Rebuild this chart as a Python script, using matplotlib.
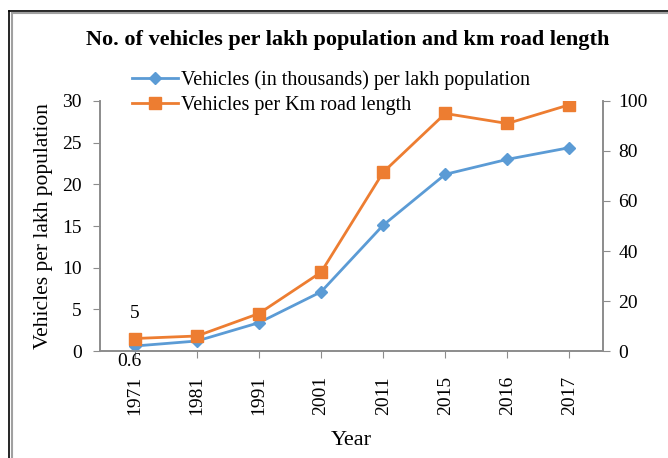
import matplotlib.pyplot as plt
from matplotlib.lines import Line2D

# Data
years = ['1971', '1981', '1991', '2001', '2011', '2015', '2016', '2017']
veh_per_lakh = [0.6, 1.2, 3.4, 7.1, 15.1, 21.2, 23.0, 24.4]
veh_per_km = [5, 6, 15, 31.5, 71.5, 95, 91, 98.5]

plt.rcParams['font.family'] = ['Liberation Serif', 'DejaVu Serif']

blue = '#5B9BD5'
orange = '#ED7D31'
grey = '#8C8C8C'

fig = plt.figure(figsize=(6.68, 4.58), dpi=100)
ax = fig.add_axes([0.1497, 0.2336, 0.753, 0.5459])
ax2 = ax.twinx()

x = list(range(len(years)))
l1, = ax.plot(x, veh_per_lakh, color=blue, lw=2, marker='D', ms=6,
              label='Vehicles (in thousands) per lakh population', zorder=3)
l2, = ax2.plot(x, veh_per_km, color=orange, lw=2, marker='s', ms=8,
               label='Vehicles per Km road length', zorder=3)

ax.set_xlim(-0.56, 7.54)
ax.set_ylim(0, 30)
ax2.set_ylim(0, 100)
ax.set_yticks(range(0, 31, 5))
ax2.set_yticks(range(0, 101, 20))
ax.set_xticks(x)
ax.set_xticklabels(years, rotation=90, fontsize=14)
ax.tick_params(axis='y', labelsize=14, color=grey, length=5, pad=8)
ax2.tick_params(axis='y', labelsize=14, color=grey, length=5, pad=6)
ax.tick_params(axis='x', color=grey, length=5, pad=13)

for a in (ax, ax2):
    a.spines['top'].set_visible(False)
    for s in ('left', 'right', 'bottom'):
        a.spines[s].set_color(grey)
        a.spines[s].set_linewidth(1.2)

ax.set_ylabel('Vehicles per lakh population', fontsize=15.5, labelpad=7)
ax.set_xlabel('Year', fontsize=16, labelpad=11)

# data labels on the first point
ax2.annotate('5', (0, veh_per_km[0]), xytext=(0, 12), textcoords='offset points',
             ha='center', va='bottom', fontsize=14)
ax.annotate('0.6', (0, veh_per_lakh[0]), xytext=(-4, -5), textcoords='offset points',
            ha='center', va='top', fontsize=14)

fig.text(0.52, 0.913, 'No. of vehicles per lakh population and km road length',
         ha='center', va='center', fontsize=16, fontweight='bold')

fig.legend(handles=[l1, l2], loc='upper left', bbox_to_anchor=(0.185, 0.864),
           frameon=False, fontsize=14.5, handlelength=2.3, handletextpad=0.15,
           labelspacing=0.3, borderaxespad=0)

# double frame around the chart
fig.add_artist(Line2D([0.014, 1.0], [0.976, 0.976], color='black', lw=1.2))
fig.add_artist(Line2D([0.014, 0.014], [0.0, 0.976], color='black', lw=1.2))
fig.add_artist(Line2D([0.018, 1.0], [0.971, 0.971], color='#A0A0A0', lw=1.5))
fig.add_artist(Line2D([0.018, 0.018], [0.0, 0.971], color='#A0A0A0', lw=1.5))

fig.savefig('out.png', dpi=100)
